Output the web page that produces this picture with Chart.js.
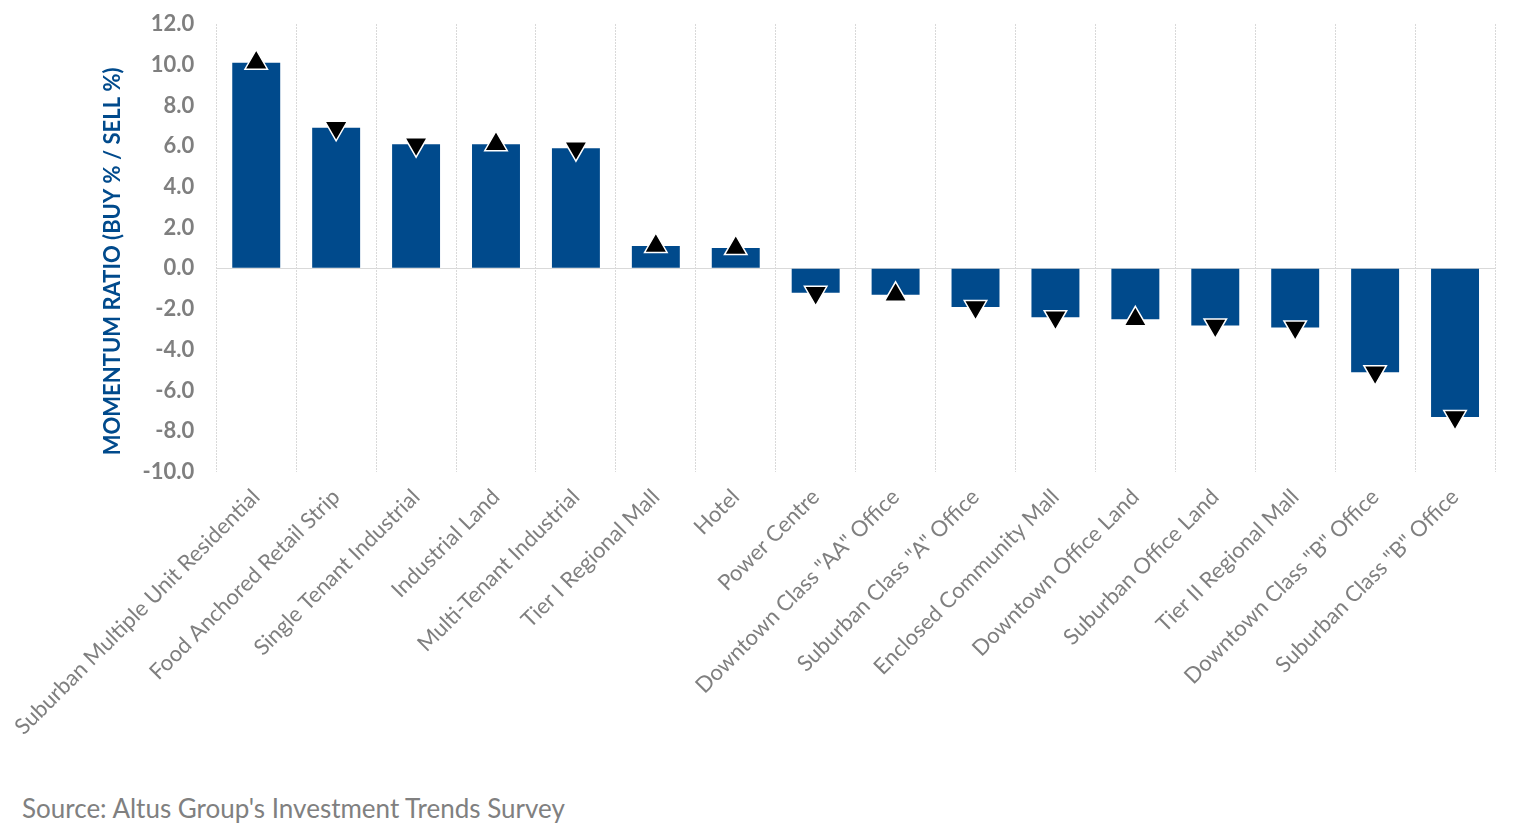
<!DOCTYPE html>
<html>
<head>
<meta charset="utf-8">
<script src="https://cdn.jsdelivr.net/npm/chart.js@4/dist/chart.umd.min.js"></script>
<style>
body { margin: 0; background: white; font-family: Lato, sans-serif; }
#wrap { position: relative; width: 1527px; height: 823px; }
#source { position: absolute; left: 22px; top: 792px; font-size: 26px; color: #808080; }
</style>
</head>
<body>
<div id="wrap">
<canvas id="myChart" width="1527" height="760"></canvas>
<div id="source">Source: Altus Group's Investment Trends Survey</div>
</div>
<script>
// categories and values
const categories = [
    "Suburban Multiple Unit Residential",
    "Food Anchored Retail Strip",
    "Single Tenant Industrial",
    "Industrial Land",
    "Multi-Tenant Industrial",
    "Tier I Regional Mall",
    "Hotel",
    "Power Centre",
    "Downtown Class \"AA\" Office",
    "Suburban Class \"A\" Office",
    "Enclosed Community Mall",
    "Downtown Office Land",
    "Suburban Office Land",
    "Tier II Regional Mall",
    "Downtown Class \"B\" Office",
    "Suburban Class \"B\" Office",
];
const momentum = [10.1, 6.9, 6.1, 6.1, 5.9, 1.1, 1.0, -1.2, -1.3, -1.9, -2.4, -2.5, -2.8, -2.9, -5.1, -7.3];
// up / down arrow vs previous survey
const trend = ["up", "down", "down", "up", "down", "up", "up", "down", "up", "down", "down", "up", "down", "down", "down", "down"];

const barColor = "#004a8c";
const gray = "#7f7f7f";

var rotations = trend.map(function (t) { return t == "up" ? 0 : 180; });

const ctx = document.getElementById("myChart").getContext("2d");
window.myChart = new Chart(ctx, {
    type: "bar",
    data: {
	labels: categories,
	datasets: [
	    { type: "line",
	      data: momentum,
	      showLine: false,
	      pointStyle: "triangle",
	      pointRadius: 13,
	      pointRotation: rotations,
	      pointBackgroundColor: "#000000",
	      pointBorderColor: "#ffffff",
	      pointBorderWidth: 1.5,
	      order: 0 },
	    { type: "bar",
	      data: momentum,
	      backgroundColor: barColor,
	      borderWidth: 0,
	      barPercentage: 1.0,
	      categoryPercentage: 0.6,
	      order: 1 },
	]
    },
    options: {
	responsive: false,
	animation: false,
	layout: { padding: { left: 98, top: 24, right: 32, bottom: 2 } },
	plugins: { legend: { display: false }, tooltip: { enabled: false } },
	scales: {
	    x: {
		grid: { offset: true, color: "#d9d9d9", drawTicks: false },
		border: { display: false, dash: [2, 1] },
		ticks: {
		    color: gray,
		    font: { family: "Lato", size: 22 },
		    maxRotation: 45,
		    minRotation: 45,
		    autoSkip: false,
		    padding: 12,
		},
		afterFit: function (scale) { scale.height = 286; },
	    },
	    y: {
		min: -10,
		max: 12,
		ticks: {
		    stepSize: 2,
		    color: gray,
		    padding: 22,
		    font: { family: "Lato", size: 22, weight: "bold" },
		    callback: function (v) { return v.toFixed(1); },
		},
		grid: {
		    drawTicks: false,
		    color: function (c) { return (c.tick && c.tick.value === 0) ? "#d9d9d9" : "rgba(0,0,0,0)"; },
		},
		border: { display: false },
		title: {
		    display: true,
		    // trailing spaces push the title a little lower, as in the picture
		    text: "MOMENTUM RATIO (BUY % / SELL %)     ",
		    color: barColor,
		    font: { family: "Lato", size: 22, weight: "bold" },
		    padding: 0,
		},
		afterFit: function (scale) {
		    scale.width = 117;
		    scale.paddingTop = 0;
		    scale.paddingBottom = 0;
		},
	    }
	}
    }
});
</script>
</body>
</html>
